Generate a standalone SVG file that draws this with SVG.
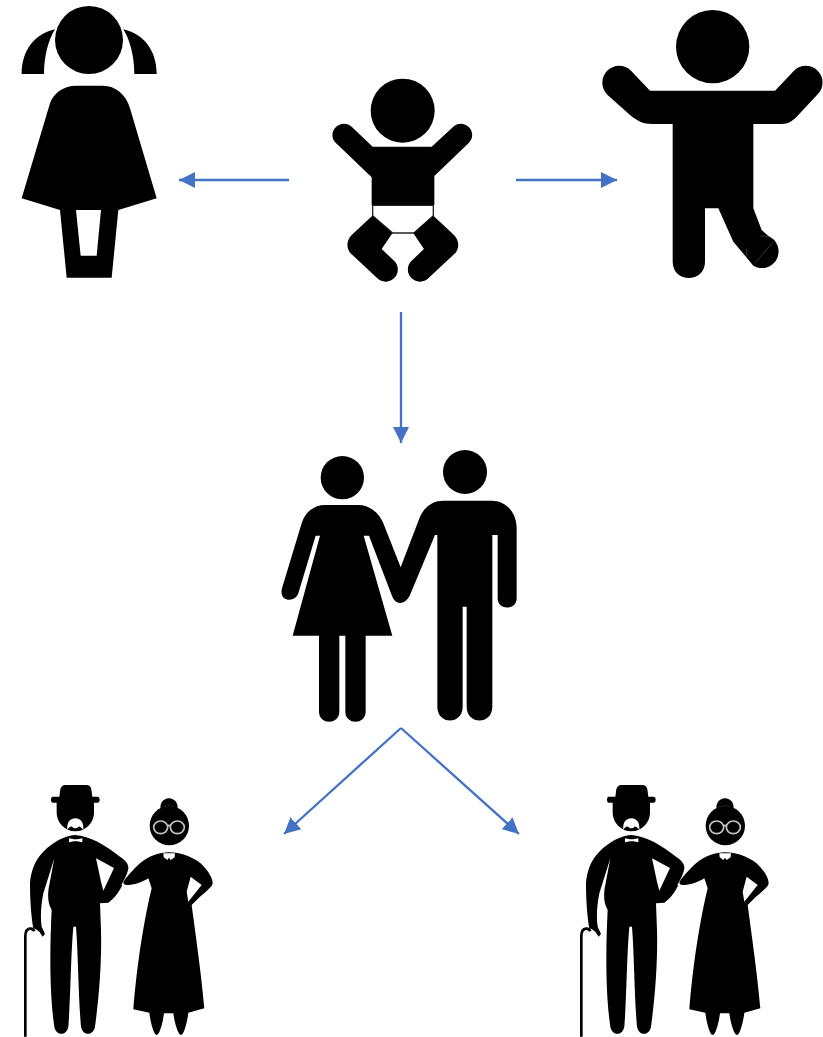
<svg xmlns="http://www.w3.org/2000/svg" xmlns:xlink="http://www.w3.org/1999/xlink" width="823" height="1037" viewBox="0 0 823 1037">
<style>
.k{fill:#000}
.w{fill:#fff}
.c{stroke:#4472C4;stroke-width:2.3;fill:none;marker-end:url(#ah)}
</style>
<defs>
<marker id="ah" markerUnits="userSpaceOnUse" markerWidth="18" markerHeight="18" refX="16" refY="9" orient="auto"><path d="M0 1L16 9L0 17Z" fill="#4472C4"/></marker>
<g id="elders" transform="translate(0,770) scale(.33333)">
<path class="k" d="M178 80L181 58Q184 45 197 45L258 45Q272 45 274 58L277 80L292 80Q299 80 299 89Q299 98 292 98L282 98L282 128A56 56 0 0 1 170 128L170 98L159 98Q153 98 153 89Q153 80 159 80Z"/>
<path class="w" d="M202 180C200 160 208 145 226 145C244 145 252 160 250 180C245 172 238 168 236 170Q226 180 216 170C212 168 206 172 202 180Z"/>
<path class="k" d="M225 195C270 198 315 225 360 260C378 272 389 285 384 300C374 340 352 380 325 398L300 400L303 480C305 560 300 660 285 770C280 797 250 800 243 770C235 680 235 560 228 470L220 470C212 560 212 680 205 770C198 800 168 797 163 770C150 680 148 560 155 420C143 400 143 375 146 355L163 265L130 370C124 400 120 440 125 470L135 492L128 500L118 485L108 478L100 475C95 450 90 400 90 340C92 305 105 270 130 245C160 215 195 197 225 195Z"/>
<path class="w" d="M207 205L222 208L232 208L247 205L247 217L232 214L222 214L207 217Z"/>
<path class="w" d="M288 265L342 294L310 362L303 335Z"/>
<path d="M76 800L76 498Q76 478 90 476Q99 475 103 484" fill="none" stroke="#000" stroke-width="8"/>
<path d="M385 310L366 346" stroke="#fff" stroke-width="4" fill="none"/>
<path class="k" d="M482 118C478 100 490 85 507 85C524 85 536 100 532 118Z"/>
<path d="M490 112Q507 104 524 112" stroke="#888" stroke-width="2" fill="none"/>
<circle class="k" cx="508" cy="167" r="59"/>
<g fill="none" stroke="#c4c4c4" stroke-width="5"><ellipse cx="482" cy="172" rx="21" ry="19"/><ellipse cx="532" cy="172" rx="21" ry="19"/><path d="M503 168Q507 164 511 168"/></g>
<path class="k" d="M507 247C545 247 590 265 612 290C625 305 637 322 638 338Q638 345 633 350C622 362 610 372 600 380L575 405C585 480 605 620 613 715L565 728C562 755 552 795 543 795C534 795 523 755 520 730L492 730C489 755 479 795 470 795C461 795 451 755 448 728L400 718C408 620 425 480 455 355L445 325C430 335 400 347 380 345Q366 343 372 333C385 315 405 293 420 280C445 258 480 247 507 247Z"/>
<path class="w" d="M490 250L525 250L524 262L512 270L507 263L502 270L491 262Z"/>
<path class="w" d="M572 320L605 345L565 395L560 365Z"/>
</g>
</defs>
<g id="connectors">
<line class="c" x1="289" y1="180" x2="179" y2="180"/>
<line class="c" x1="516" y1="180" x2="617" y2="180"/>
<line class="c" x1="401" y1="312" x2="401" y2="443"/>
<line class="c" x1="401" y1="728" x2="284" y2="834"/>
<line class="c" x1="401" y1="728" x2="519" y2="834"/>
</g>
<g id="girl" transform="scale(.33333)">
<circle class="k" cx="267" cy="120" r="102"/>
<path class="k" d="M165 88C105 102 65 150 65 222L132 222C132 170 145 120 165 88Z"/>
<path class="k" d="M370 88C430 102 470 150 470 222L403 222C403 170 390 120 370 88Z"/>
<path class="k" d="M230 257L310 257C345 257 378 282 390 325L470 595L355 630L335 833L200 833L180 630L65 595L150 310C160 280 190 257 230 257Z"/>
<path class="w" d="M228 630L303 630L290 767L242 767Z"/>
</g>
<g id="baby" transform="translate(320,70) scale(.33333)">
<circle class="k" cx="248" cy="122" r="96"/>
<path class="k" d="M158 230L95 170C82 158 60 158 47 172C34 186 34 206 47 218L155 322L155 405L343 405L343 318L447 218C460 205 460 186 447 172C434 158 412 158 400 170L335 230Z"/>
<path class="w" d="M158 406L340 406L340 437L282 489L218 489L158 437Z" stroke="#222" stroke-width="4"/>
<path class="k" d="M157 437L217 490L185 537L222 572A34 34 0 0 1 172 625L95 553C78 538 78 512 95 495Z"/>
<path class="k" d="M340 437L280 490L312 537L275 572A34 34 0 0 0 325 625L402 553C419 538 419 512 402 495Z"/>
</g>
<g id="toddler" transform="translate(590,0) scale(.33333)">
<circle class="k" cx="368" cy="140" r="110"/>
<path class="k" d="M123 212L180 272L555 272L612 212A50 50 0 0 1 683 283L625 345C610 362 595 372 575 372L490 372L490 625L515 690L535 708A50 50 0 1 1 490 797L430 725L385 625L345 625L345 785C345 850 248 850 248 785L248 372L185 372C160 372 140 362 120 345L52 284A50 50 0 0 1 123 212Z"/>
<path d="M495 790L550 725M470 745L470 770M510 708L540 710" stroke="#666" stroke-width="1.5" fill="none"/>
</g>
<g id="couple" transform="translate(270,440) scale(.33333)">
<circle class="k" cx="217" cy="113" r="65"/>
<circle class="k" cx="585" cy="96" r="66"/>
<path class="k" d="M165 195L265 195C300 195 328 220 340 250L392 382L450 230C465 198 490 182 520 182L665 182C710 182 740 220 740 265L740 475C740 512 683 512 683 475L683 285L667 285L667 800C667 855 590 855 590 800L590 500L578 500L578 800C578 855 502 855 502 800L502 285L495 285L420 465C405 497 375 497 365 465L297 287L281 287L367 587L287 587L287 815C287 855 226 855 226 815L226 587L208 587L208 815C208 855 147 855 147 815L147 587L68 587L150 287L137 287L85 460C75 490 25 485 36 445L95 250C105 218 130 195 165 195Z"/>
</g>
<g id="grandparents-left"><use href="#elders"/></g>
<g id="grandparents-right" transform="translate(556,0)"><use href="#elders"/></g>
</svg>
